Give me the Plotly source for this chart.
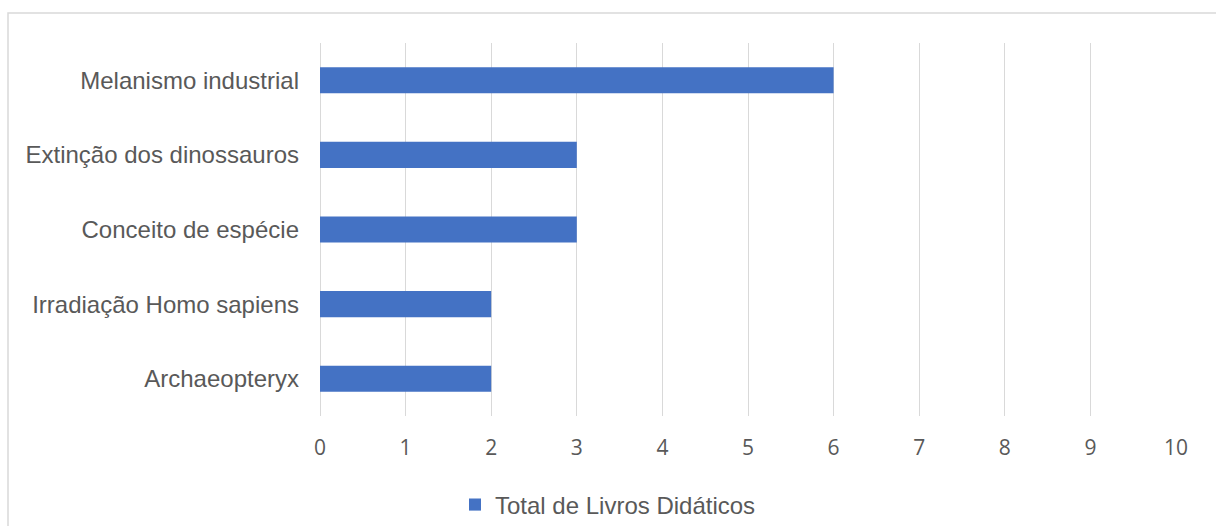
import plotly.graph_objects as go

categories = ["Archaeopteryx", "Irradiação Homo sapiens", "Conceito de espécie",
              "Extinção dos dinossauros", "Melanismo industrial"]
values = [2, 2, 3, 3, 6]
series_name = "Total de Livros Didáticos"
x_ticks = list(range(0, 11))

W, H = 1216, 526
L, R, T, B = 320, 40, 43, 110
pw, ph = W - L - R, H - T - B

fig = go.Figure()
fig.add_trace(go.Bar(
    y=categories, x=values, orientation="h", name=series_name,
    marker=dict(color="#4472C4", line=dict(width=0)),
    showlegend=True,
))

def px_x(p):
    return (p - L) / pw

def px_y(p):
    return (H - B - p) / ph

fig.update_layout(
    width=W, height=H,
    margin=dict(l=L, r=R, t=T, b=B, autoexpand=False),
    paper_bgcolor="white", plot_bgcolor="white",
    bargap=0.65,
    font=dict(family="Liberation Sans", color="#595959", size=24),
    xaxis=dict(range=[0, 10], tickvals=x_ticks, showgrid=True,
               gridcolor="#D9D9D9", gridwidth=1,
               zeroline=True, zerolinecolor="#D9D9D9", zerolinewidth=1,
               showline=False, ticks="",
               tickfont=dict(family="Open Sans", size=21, color="#595959"),
               ticklabelstandoff=17, fixedrange=True),
    yaxis=dict(categoryorder="array", categoryarray=categories,
               showgrid=False, zeroline=False, showline=False, ticks="",
               tickfont=dict(family="Liberation Sans", size=24, color="#595959"),
               ticklabelstandoff=20, fixedrange=True),
    legend=dict(orientation="h", xref="container", x=608 / W, xanchor="center",
                yref="container", y=1 - 505 / H, yanchor="middle",
                font=dict(family="Liberation Sans", size=24, color="#595959"),
                bgcolor="rgba(0,0,0,0)"),
    shapes=[dict(type="rect", xref="paper", yref="paper",
                 x0=px_x(8), x1=px_x(1230), y0=px_y(13), y1=px_y(540),
                 line=dict(color="#D9D9D9", width=1.5), layer="below")],
)

fig.write_html("out.html")
